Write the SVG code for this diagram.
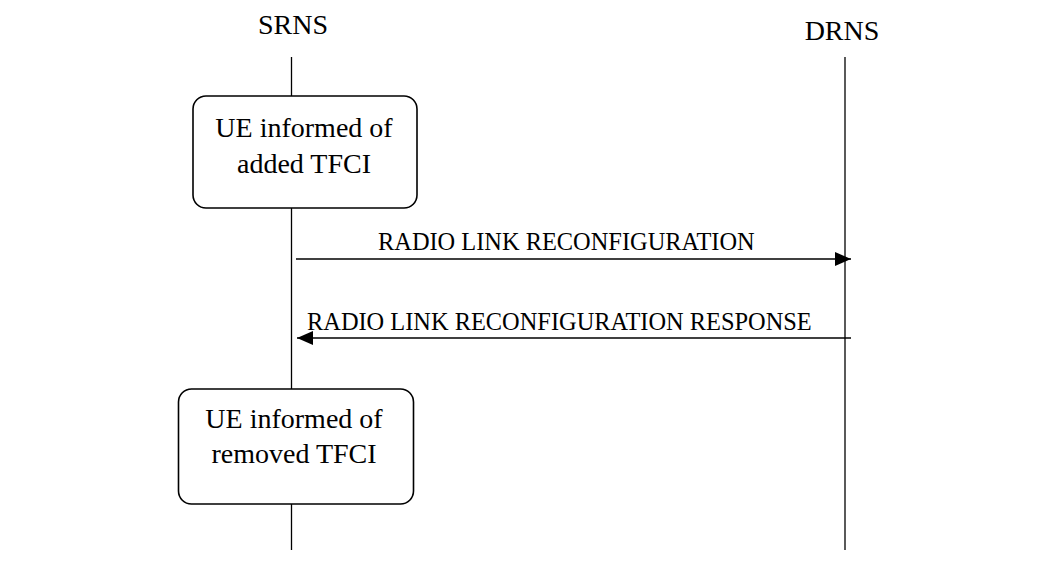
<svg xmlns="http://www.w3.org/2000/svg" width="1064" height="572" viewBox="0 0 1064 572">
<style>
text{font-family:"Liberation Serif","Times New Roman",serif;fill:#000}
.lbl{font-size:28px;text-anchor:middle}
.msg{font-size:24.4px}
.ll{stroke:#000;stroke-width:1.3;fill:none}
.box{fill:#fff;stroke:#000;stroke-width:1.6}
.arr{stroke:#000;stroke-width:1.5;fill:none}
</style>
<defs>
<marker id="ah" markerWidth="16" markerHeight="14" refX="16" refY="7" orient="auto" markerUnits="userSpaceOnUse">
<path d="M0,0 L16,7 L0,14 Z" fill="#000"/>
</marker>
</defs>
<g id="srns">
<text class="lbl" x="293" y="34">SRNS</text>
<line class="ll" x1="291.5" y1="57" x2="291.5" y2="550"/>
</g>
<g id="drns">
<text class="lbl" x="842" y="40">DRNS</text>
<line class="ll" x1="845" y1="57" x2="845" y2="550"/>
</g>
<g id="box1">
<rect class="box" x="193" y="96" width="224" height="112" rx="13"/>
<text class="lbl" x="304" y="137">UE informed of</text>
<text class="lbl" x="304" y="173">added TFCI</text>
</g>
<g id="box2">
<rect class="box" x="178.5" y="389" width="235" height="115" rx="13"/>
<text class="lbl" x="294" y="428">UE informed of</text>
<text class="lbl" x="294" y="463">removed TFCI</text>
</g>
<g id="connectors">
<line class="arr" x1="296" y1="259" x2="851" y2="259" marker-end="url(#ah)"/>
<text class="msg" x="378" y="250">RADIO LINK RECONFIGURATION</text>
<line class="arr" x1="851" y1="338" x2="297" y2="338" marker-end="url(#ah)"/>
<text class="msg" x="307" y="330">RADIO LINK RECONFIGURATION RESPONSE</text>
</g>
</svg>
